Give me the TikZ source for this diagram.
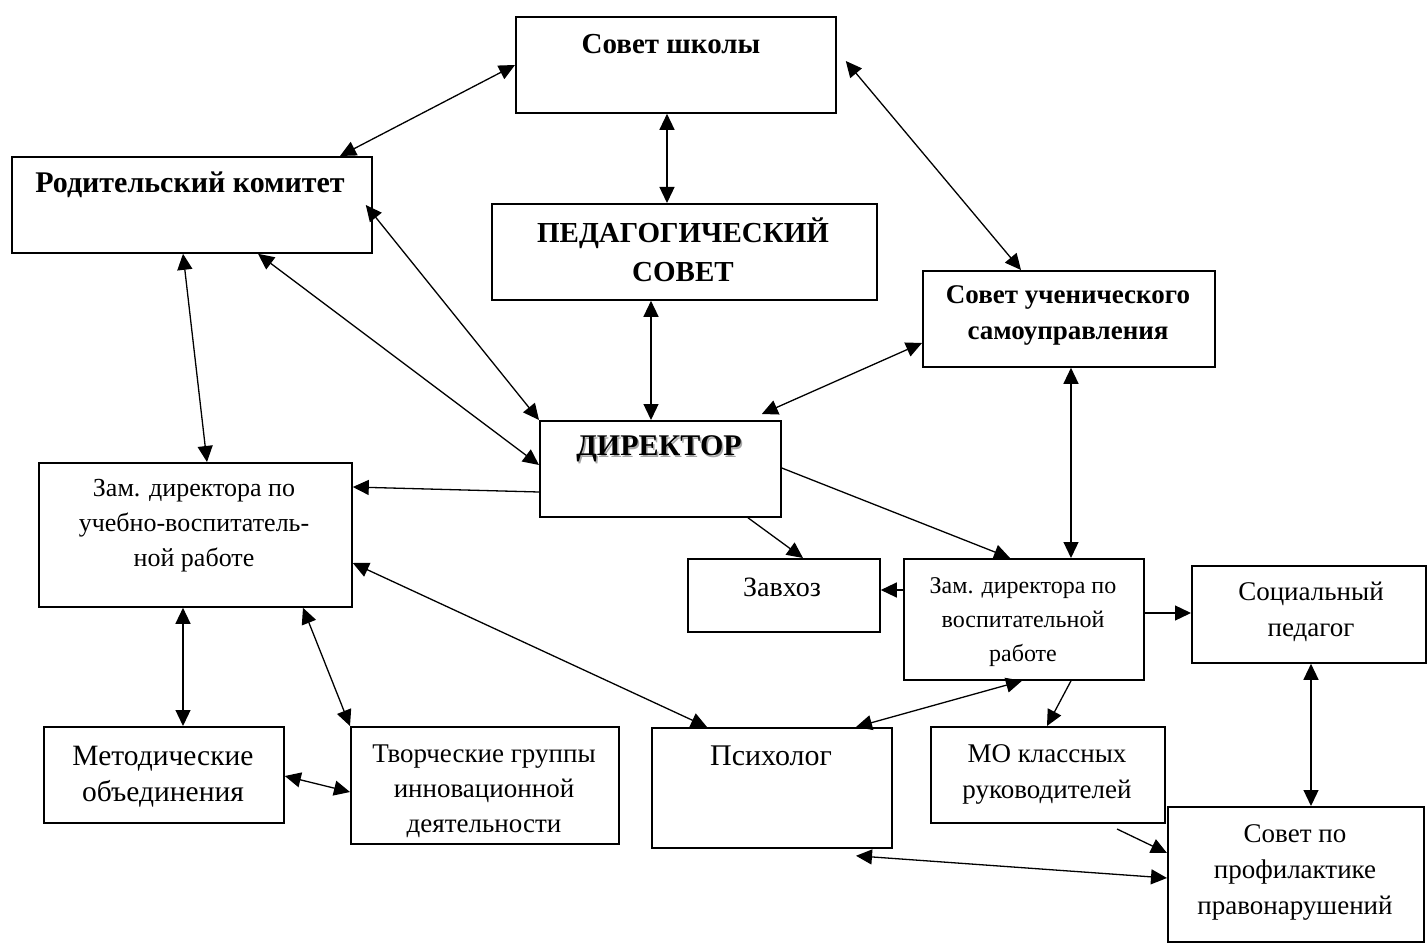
\documentclass[tikz,border=0pt]{standalone}
\usepackage{fontspec}
\setmainfont{Liberation Serif}
\usepackage{tikz}
\usetikzlibrary{positioning,arrows.meta}
\newcommand{\shadowed}[1]{\makebox[0pt][l]{\kern1.5pt\raisebox{-1.5pt}{\color{black!35}#1}}#1}

\begin{document}
\begin{tikzpicture}[x=1pt,y=-1pt]
 \tikzset{box/.style={draw,line width=1.8pt,anchor=north west,inner sep=0pt},
  txt/.style={align=center,inner sep=0pt,font=\fontsize{30}{36}\selectfont},
  btxt/.style={align=center,inner sep=0pt,font=\fontsize{30}{36}\selectfont\bfseries},
  arrow/.style={line width=1.3pt,-{Triangle[length=16pt,width=15pt]}},
  twoway/.style={line width=1.3pt,{Triangle[length=16pt,width=15pt]}-{Triangle[length=16pt,width=15pt]}}}
 \useasboundingbox (0,0) rectangle (1428,944);

 % boxes
 \node[box,minimum width=320,minimum height=96] (S) at (515,16) {};
 \node[box,minimum width=360,minimum height=96] (R) at (11,156) {};
 \node[box,minimum width=385,minimum height=96] (P) at (491,203) {};
 \node[box,minimum width=292,minimum height=96] (U) at (922,270) {};
 \node[box,minimum width=241,minimum height=96] (D) at (539,420) {};
 \node[box,minimum width=313,minimum height=144] (Z1) at (38,462) {};
 \node[box,minimum width=192,minimum height=73] (H) at (687,558) {};
 \node[box,minimum width=240,minimum height=121] (Z2) at (903,558) {};
 \node[box,minimum width=234,minimum height=97] (SP) at (1191,565) {};
 \node[box,minimum width=240,minimum height=96] (M) at (43,726) {};
 \node[box,minimum width=268,minimum height=117] (T) at (350,726) {};
 \node[box,minimum width=240,minimum height=120] (PS) at (651,727) {};
 \node[box,minimum width=234,minimum height=96] (MO) at (930,726) {};
 \node[box,minimum width=256,minimum height=135] (PR) at (1167,806) {};

 % texts
 \node[btxt,font=\fontsize{29}{36}\selectfont\bfseries] (S-t) at (671,44) {Совет школы};
 \node[btxt] (R-t) at (190,185) {Родительский комитет};
 \node[btxt,font=\fontsize{29}{39}\selectfont\bfseries] (P-t) at (683,250) {ПЕДАГОГИЧЕСКИЙ\\СОВЕТ};
 \node[btxt,font=\fontsize{27}{36}\selectfont\bfseries] (U-t) at (1068,315) {Совет ученического\\самоуправления};
 \node[btxt,font=\fontsize{30}{36}\selectfont\bfseries] (D-t) at (659,450) {\shadowed{ДИРЕКТОР}};
 \node[txt,font=\fontsize{26}{35}\selectfont] (Z1-t) at (194,526) {Зам. директора по\\учебно-воспитатель-\\ной работе};
 \node[txt,font=\fontsize{28}{36}\selectfont] (H-t) at (782,587) {Завхоз};
 \node[txt,font=\fontsize{24}{34}\selectfont] (Z2-t) at (1023,622) {Зам. директора по\\воспитательной\\работе};
 \node[txt,font=\fontsize{27}{36}\selectfont] (SP-t) at (1311,612) {Социальный\\педагог};
 \node[txt,font=\fontsize{29.5}{36}\selectfont] (M-t) at (163,777) {Методические\\объединения};
 \node[txt,font=\fontsize{27}{35}\selectfont] (T-t) at (484,791) {Творческие группы\\инновационной\\деятельности};
 \node[txt] (PS-t) at (771,756) {Психолог};
 \node[txt,font=\fontsize{27}{36}\selectfont] (MO-t) at (1047,774) {МО классных\\руководителей};
 \node[txt,font=\fontsize{27}{36}\selectfont] (PR-t) at (1295,872) {Совет по\\профилактике\\правонарушений};

 \coordinate (MO-free) at (1117,829);

 % links
 \draw[twoway] ([xshift=329pt]R.north west) -- ([yshift=-49pt]S.north west);
 \draw[twoway] ([xshift=9pt,yshift=-45pt]S.north east) -- ([xshift=99pt]U.north west);
 \draw[twoway] ([xshift=152pt]S.south west) -- ([xshift=176pt]P.north west);
 \draw[twoway] ([xshift=160pt]P.south west) -- ([xshift=112pt]D.north west);
 \draw[twoway] ([xshift=-7pt,yshift=-49pt]R.north east) -- (D.north west);
 \draw[twoway] ([xshift=247pt]R.south west) -- ([yshift=-45pt]D.north west);
 \draw[twoway] ([xshift=172pt]R.south west) -- ([xshift=169pt]Z1.north west);
 \draw[arrow] ([yshift=-72pt]D.north west) -- ([yshift=-25pt]Z1.north east);
 \draw[twoway] ([yshift=-73pt]U.north west) -- ([xshift=-20pt,yshift=6pt]D.north east);
 \draw[arrow] ([xshift=209pt]D.south west) -- ([xshift=116pt]H.north west);
 \draw[arrow] ([yshift=-48pt]D.north east) -- ([xshift=107pt]Z2.north west);
 \draw[twoway] ([xshift=149pt]U.south west) -- ([xshift=168pt]Z2.north west);
 \draw[arrow] ([yshift=-32pt]Z2.north west) -- ([yshift=-32pt]H.north east);
 \draw[arrow] ([yshift=-55pt]Z2.north east) -- ([yshift=-48pt]SP.north west);
 \draw[twoway] ([xshift=119pt]Z2.south west) -- ([xshift=205pt]PS.north west);
 \draw[arrow] ([xshift=168pt]Z2.south west) -- ([xshift=117pt]MO.north west);
 \draw[twoway] ([xshift=120pt]SP.south west) -- ([xshift=144pt]PR.north west);
 \draw[arrow] (MO-free) -- ([yshift=-47pt]PR.north west);
 \draw[twoway] ([xshift=205pt,yshift=-7pt]PS.south west) -- ([yshift=-72pt]PR.north west);
 \draw[twoway] ([yshift=-101pt]Z1.north east) -- ([xshift=56pt]PS.north west);
 \draw[twoway] ([xshift=145pt]Z1.south west) -- ([xshift=140pt]M.north west);
 \draw[twoway] ([xshift=265pt]Z1.south west) -- (T.north west);
 \draw[twoway] ([yshift=-50pt]M.north east) -- ([yshift=-66pt]T.north west);
\end{tikzpicture}
\end{document}
